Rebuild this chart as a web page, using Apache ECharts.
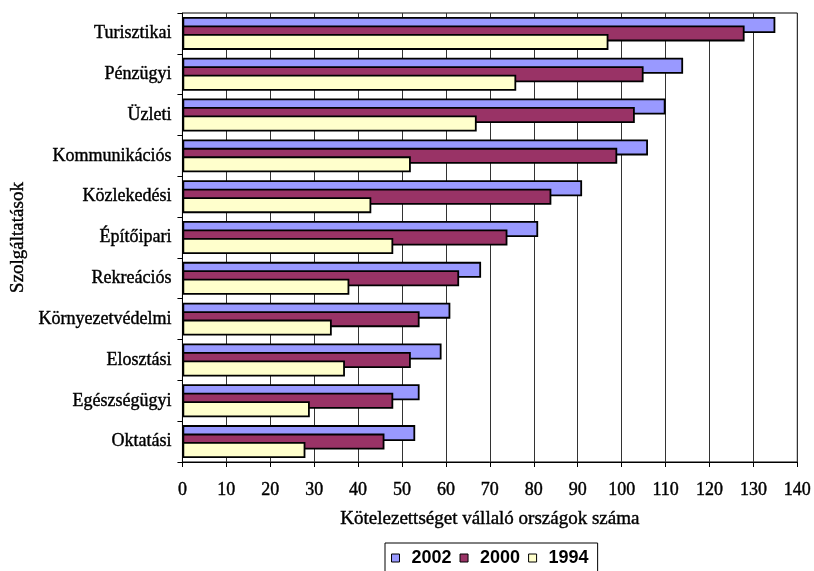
<!DOCTYPE html>
<html>
<head>
<meta charset="utf-8">
<script src="https://cdn.jsdelivr.net/npm/echarts@6/dist/echarts.min.js"></script>
<style>
html,body{margin:0;padding:0;background:#fff;}
#c{width:814px;height:571px;}
</style>
</head>
<body>
<div id="c"></div>
<script>
const categories = ["Turisztikai","Pénzügyi","Üzleti","Kommunikációs","Közlekedési","Építőipari","Rekreációs","Környezetvédelmi","Elosztási","Egészségügyi","Oktatási"];
const seriesNames = ["2002","2000","1994"];
const values2002 = [135,114,110,106,91,81,68,61,59,54,53];
const values2000 = [128,105,103,99,84,74,63,54,52,48,46];
const values1994 = [97,76,67,52,43,48,38,34,37,29,28];
const xTicks = {min:0, max:140, interval:10};
const colors = ["#9999FF","#993366","#FFFFCC"];

const serif = "'Liberation Serif', 'DejaVu Serif', serif";
const heavy = {textBorderColor:'#000', textBorderWidth:0.4};
const chart = echarts.init(document.getElementById('c'), null, {renderer:'canvas'});
const data = [values2002, values2000, values1994];
chart.setOption({
  animation:false,
  backgroundColor:'#fff',
  grid:{left:179, right:15, top:13, bottom:109, show:true, borderColor:'#000', borderWidth:1, containLabel:false},
  legend:{
    data:seriesNames, top:543, left:385,
    orient:'horizontal', icon:'rect', itemWidth:8, itemHeight:8, itemGap:8,
    borderColor:'#000', borderWidth:1, padding:[6,9,6,6],
    formatter: n => '{t|' + n + '}',
    textStyle:{fontFamily:"'Liberation Sans', Arial, sans-serif", fontWeight:'bold', fontSize:18, color:'#000',
      rich:{t:{fontFamily:"'Liberation Sans', Arial, sans-serif", fontWeight:'bold', fontSize:18, color:'#000', padding:[0,0,0,7]}}},
    itemStyle:{borderColor:'#000', borderWidth:1}
  },
  xAxis:{
    type:'value', min:xTicks.min, max:xTicks.max, interval:xTicks.interval,
    name:'Kötelezettséget vállaló országok száma', nameLocation:'middle', nameGap:48,
    nameTextStyle:Object.assign({fontFamily:serif, fontSize:19, color:'#000'}, heavy),
    axisLine:{show:true, lineStyle:{color:'#000', width:1}},
    axisTick:{show:true, length:5, lineStyle:{color:'#000'}},
    axisLabel:Object.assign({fontFamily:serif, fontSize:18, color:'#000', margin:19}, heavy),
    splitLine:{show:true, lineStyle:{color:'#333', width:1}}
  },
  yAxis:{
    type:'category', data:categories, inverse:true,
    name:'Szolgáltatások', nameLocation:'middle', nameGap:150, nameRotate:90,
    nameTextStyle:Object.assign({fontFamily:serif, fontSize:19, color:'#000'}, heavy),
    axisLine:{show:true, lineStyle:{color:'#000', width:1}},
    axisTick:{show:true, length:5, lineStyle:{color:'#000'}},
    axisLabel:Object.assign({fontFamily:serif, fontSize:18, color:'#000', margin:11}, heavy),
    splitLine:{show:false}
  },
  series: seriesNames.map((n,i)=>({
    name:n, type:'bar', data:data[i], barWidth:16, barGap:'-47%',
    itemStyle:{color:colors[i], borderColor:'#000', borderWidth:1.8}
  }))
});
</script>
</body>
</html>
